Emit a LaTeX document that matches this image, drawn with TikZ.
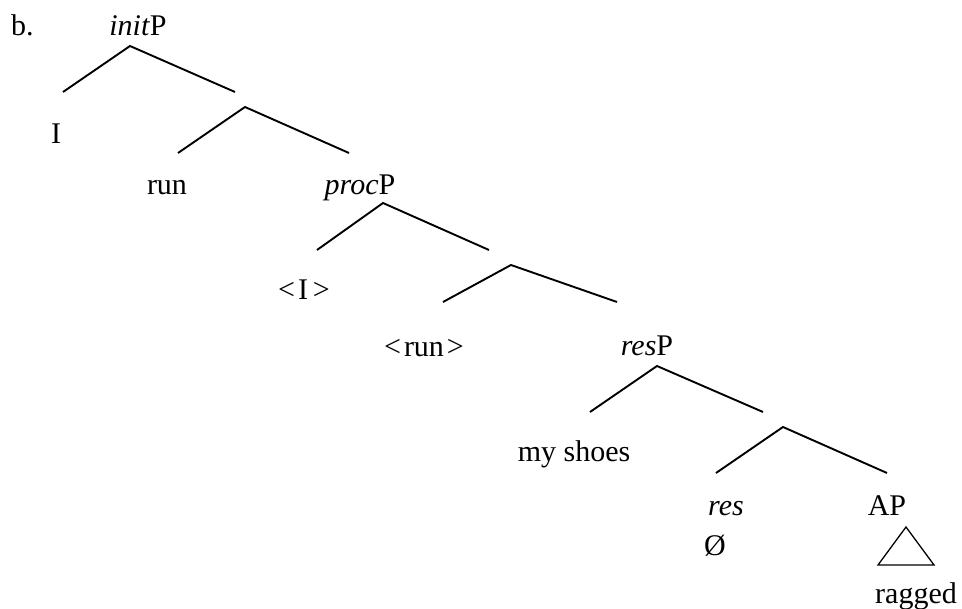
\documentclass[tikz,border=0pt]{standalone}
\usepackage{fontspec}
\setmainfont{Liberation Serif}
\begin{document}
\begin{tikzpicture}[x=1pt,y=-1pt,
  lbl/.style={anchor=base,inner sep=0pt,font=\fontsize{30}{36}\selectfont},
  branch/.style={line width=1.9pt,line cap=butt}]
\useasboundingbox (0,0) rectangle (962,609);
% labels
\node[lbl,anchor=base west] (b) at (11,36) {b.};
\node[lbl] (initP) at (138,36) {\textit{init}P};
\node[lbl] (I) at (56,144) {I};
\node[lbl] (run) at (167,195) {run};
\node[lbl] (procP) at (360,195) {\textit{proc}P};
\node[lbl] (tI) at (304,300) {<\kern3pt I\kern5pt>};
\node[lbl] (trun) at (424,357) {<\kern3pt run\kern3pt>};
\node[lbl] (resP) at (647,356) {\textit{res}P};
\node[lbl] (shoes) at (574,462) {my shoes};
\node[lbl] (res) at (726,516) {\textit{res}};
\node[lbl] (null) at (715,556) {Ø};
\node[lbl] (AP) at (887,516) {AP};
\node[lbl] (ragged) at (916,603) {ragged};
% branch points
\coordinate (a1) at (130,46); \coordinate (l1) at (63,92); \coordinate (r1) at (235,92);
\coordinate (a2) at (245,107); \coordinate (l2) at (178,153); \coordinate (r2) at (349,153);
\coordinate (a3) at (383,203); \coordinate (l3) at (317,250); \coordinate (r3) at (489,250);
\coordinate (a4) at (511,265); \coordinate (l4) at (443,302); \coordinate (r4) at (617,302);
\coordinate (a5) at (657,366); \coordinate (l5) at (590,412); \coordinate (r5) at (763,412);
\coordinate (a6) at (783,427); \coordinate (l6) at (716,473); \coordinate (r6) at (887,473);
\coordinate (t1) at (906,527); \coordinate (t2) at (878,565); \coordinate (t3) at (934,565);
\foreach \n in {1,...,6}{
  \draw[branch] (l\n) -- (a\n) -- (r\n);
}
\draw[line width=1.3pt,line join=miter] (t1) -- (t2) -- (t3) -- cycle;
\end{tikzpicture}
\end{document}
